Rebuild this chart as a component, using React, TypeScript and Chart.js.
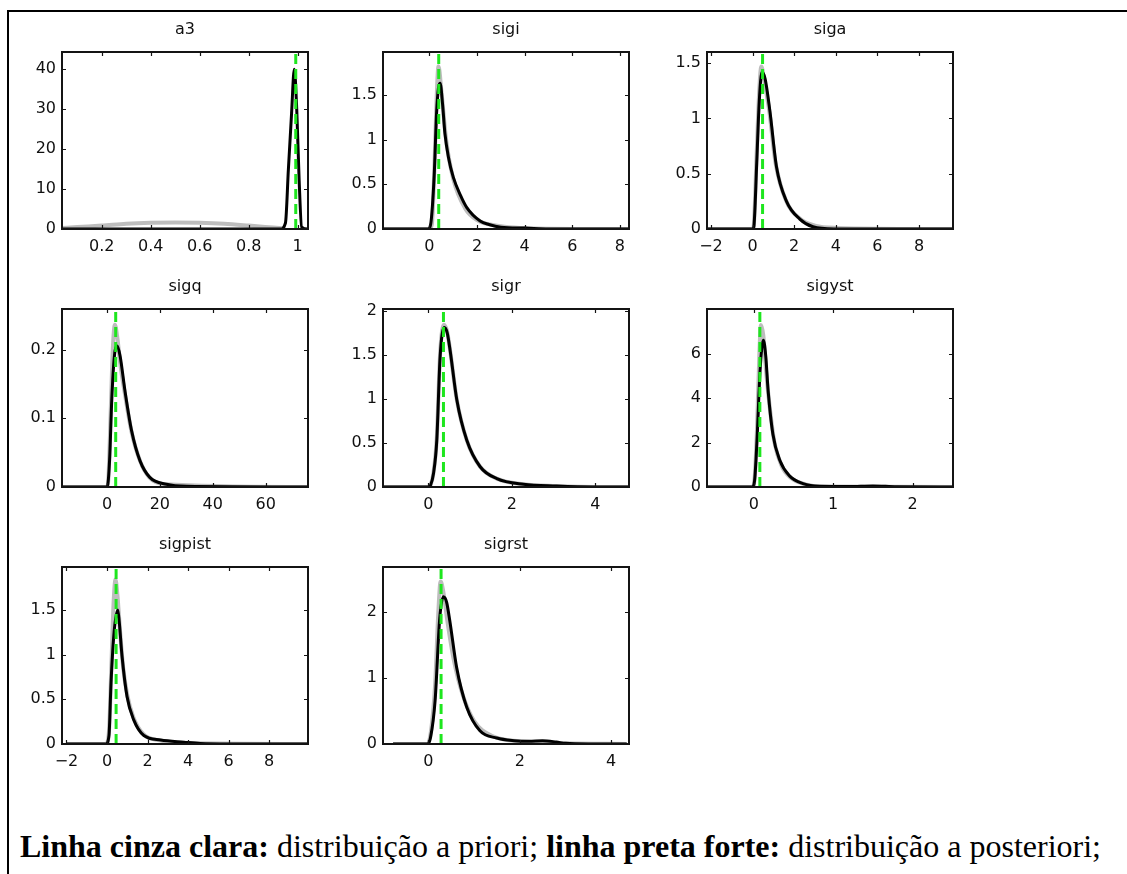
import React, { useEffect, useRef } from 'react';
import { Chart, registerables } from 'chart.js';

Chart.register(...registerables);

// ---------- data ----------
const titles = ['a3', 'sigi', 'siga', 'sigq', 'sigr', 'sigyst', 'sigpist', 'sigrst'];

// a3
const a3XRange = [0.038, 1.042];
const a3YRange = [0, 44.3];
const a3XTicks = [0.2, 0.4, 0.6, 0.8, 1];
const a3YTicks = [0, 10, 20, 30, 40];
const a3PriorX = [0.038, 0.1, 0.2, 0.3, 0.4, 0.5, 0.6, 0.7, 0.8, 0.9, 0.95];
const a3PriorY = [0.25, 0.5, 0.85, 1.3, 1.55, 1.65, 1.55, 1.3, 0.85, 0.35, 0.1];
const a3PostX = [0.038, 0.5, 0.93, 0.95, 0.962, 0.975, 0.986, 0.996, 1.006, 1.016, 1.042];
const a3PostY = [0, 0, 0, 1.5, 15, 29, 40, 30, 12, 0.5, 0];
const a3Mode = 0.992;

// sigi
const sigiXRange = [-1.95, 8.38];
const sigiYRange = [0, 1.98];
const sigiXTicks = [0, 2, 4, 6, 8];
const sigiYTicks = [0, 0.5, 1, 1.5];
const sigiPriorX = [-1.95, 0, 0.1, 0.2, 0.3, 0.38, 0.5, 0.7, 1.0, 1.5, 2, 3, 4, 6, 8.38];
const sigiPriorY = [0, 0, 0.05, 0.62, 1.45, 1.82, 1.55, 1.0, 0.56, 0.23, 0.1, 0.03, 0.01, 0, 0];
const sigiPostX = [-1.95, -0.05, 0.05, 0.2, 0.3, 0.38, 0.45, 0.55, 0.65, 0.8, 1.0, 1.3, 1.57, 2.13, 2.5, 3, 4, 5, 8.38];
const sigiPostY = [0, 0, 0.05, 0.6, 1.3, 1.58, 1.63, 1.4, 1.07, 0.8, 0.58, 0.38, 0.24, 0.09, 0.05, 0.02, 0.01, 0, 0];
const sigiMode = 0.39;

// siga
const sigaXRange = [-2.19, 9.63];
const sigaYRange = [0, 1.6];
const sigaXTicks = [-2, 0, 2, 4, 6, 8];
const sigaYTicks = [0, 0.5, 1, 1.5];
const sigaPriorX = [-2.19, 0, 0.05, 0.2, 0.32, 0.42, 0.55, 0.8, 1.1, 1.6, 2.3, 3, 4, 9.63];
const sigaPriorY = [0, 0, 0.02, 0.7, 1.25, 1.47, 1.35, 1.07, 0.6, 0.26, 0.09, 0.03, 0.01, 0];
const sigaPostX = [-2.19, 0, 0.06, 0.2, 0.32, 0.45, 0.6, 0.83, 1.15, 1.63, 2.27, 2.9, 3.9, 9.63];
const sigaPostY = [0, 0, 0.02, 0.6, 1.15, 1.42, 1.36, 1.07, 0.56, 0.25, 0.09, 0.02, 0, 0];
const sigaMode = 0.48;

// sigq
const sigqXRange = [-17, 76];
const sigqYRange = [0, 0.259];
const sigqXTicks = [0, 20, 40, 60];
const sigqYTicks = [0, 0.1, 0.2];
const sigqPriorX = [-17, 0, 0.5, 1.5, 2.2, 3.0, 4, 5, 6.8, 9.3, 12.5, 16, 22, 76];
const sigqPriorY = [0, 0, 0.01, 0.12, 0.2, 0.236, 0.215, 0.18, 0.135, 0.08, 0.038, 0.014, 0.004, 0];
const sigqPostX = [-17, 0.1, 1, 1.8, 2.8, 3.9, 5, 6.8, 9.3, 12.5, 16.2, 22.5, 30, 76];
const sigqPostY = [0, 0, 0.04, 0.126, 0.19, 0.205, 0.19, 0.14, 0.082, 0.038, 0.014, 0.004, 0.001, 0];
const sigqMode = 3.3;

// sigr
const sigrXRange = [-1.09, 4.81];
const sigrYRange = [0, 2.02];
const sigrXTicks = [0, 2, 4];
const sigrYTicks = [0, 0.5, 1, 1.5, 2];
const sigrPriorX = [-1.09, 0, 0.05, 0.12, 0.2, 0.28, 0.37, 0.45, 0.52, 0.68, 0.92, 1.24, 1.64, 2.28, 3.07, 4, 4.81];
const sigrPriorY = [0, 0, 0.02, 0.16, 0.56, 1.52, 1.84, 1.76, 1.55, 0.99, 0.53, 0.23, 0.095, 0.03, 0.01, 0, 0];
const sigrPostX = [-1.09, 0, 0.05, 0.12, 0.2, 0.28, 0.38, 0.45, 0.52, 0.68, 0.92, 1.24, 1.64, 2.28, 3.07, 4, 4.81];
const sigrPostY = [0, 0, 0.02, 0.15, 0.53, 1.48, 1.81, 1.75, 1.55, 0.99, 0.53, 0.23, 0.095, 0.03, 0.01, 0, 0];
const sigrMode = 0.36;

// sigyst
const sigystXRange = [-0.59, 2.51];
const sigystYRange = [0, 8.0];
const sigystXTicks = [0, 1, 2];
const sigystYTicks = [0, 2, 4, 6];
const sigystPriorX = [-0.59, -0.02, 0.01, 0.04, 0.07, 0.09, 0.12, 0.16, 0.2, 0.26, 0.35, 0.47, 0.65, 0.85, 2.51];
const sigystPriorY = [0, 0, 0.4, 2.6, 6.0, 7.28, 6.8, 5.0, 3.6, 2.0, 0.95, 0.4, 0.12, 0.02, 0];
const sigystPostX = [-0.59, -0.02, 0.01, 0.04, 0.08, 0.12, 0.15, 0.18, 0.24, 0.33, 0.45, 0.62, 0.83, 1.2, 1.5, 1.8, 2.51];
const sigystPostY = [0, 0, 0.3, 2.1, 5.3, 6.6, 5.9, 4.34, 2.38, 1.18, 0.5, 0.15, 0.03, 0.02, 0.05, 0.01, 0];
const sigystMode = 0.076;

// sigpist
const sigpistXRange = [-2.22, 9.92];
const sigpistYRange = [0, 1.98];
const sigpistXTicks = [-2, 0, 2, 4, 6, 8];
const sigpistYTicks = [0, 0.5, 1, 1.5];
const sigpistPriorX = [-2.0, -0.05, 0.1, 0.22, 0.33, 0.42, 0.52, 0.65, 0.8, 1.0, 1.3, 1.8, 2.6, 4, 9.92];
const sigpistPriorY = [0, 0, 0.15, 0.9, 1.6, 1.84, 1.65, 1.25, 0.85, 0.55, 0.3, 0.11, 0.04, 0.01, 0];
const sigpistPostX = [-2.0, -0.05, 0.1, 0.2, 0.35, 0.53, 0.6, 0.74, 0.99, 1.32, 1.82, 2.65, 3.8, 4.6, 6, 9.92];
const sigpistPostY = [0, 0, 0.1, 0.69, 1.25, 1.5, 1.38, 0.99, 0.53, 0.27, 0.095, 0.045, 0.02, 0.005, 0, 0];
const sigpistMode = 0.45;

// sigrst
const sigrstXRange = [-0.99, 4.39];
const sigrstYRange = [0, 2.68];
const sigrstXTicks = [0, 2, 4];
const sigrstYTicks = [0, 1, 2];
const sigrstPriorX = [-0.77, -0.02, 0.05, 0.15, 0.22, 0.27, 0.33, 0.42, 0.55, 0.75, 1.0, 1.4, 2, 3, 4.34];
const sigrstPriorY = [0, 0, 0.15, 0.9, 2.0, 2.46, 2.3, 1.85, 1.3, 0.75, 0.35, 0.12, 0.04, 0.01, 0];
const sigrstPostX = [-0.77, -0.02, 0.05, 0.15, 0.25, 0.33, 0.4, 0.47, 0.62, 0.84, 1.13, 1.5, 1.88, 2.2, 2.5, 2.8, 3.0, 3.5, 4.34];
const sigrstPostY = [0, 0, 0.1, 0.66, 1.9, 2.23, 2.15, 1.87, 1.16, 0.56, 0.2, 0.09, 0.05, 0.04, 0.05, 0.03, 0.01, 0, 0];
const sigrstMode = 0.28;

const captionBold1 = 'Linha cinza clara:';
const captionText1 = ' distribuição a priori; ';
const captionBold2 = 'linha preta forte:';
const captionText2 = ' distribuição a posteriori;';

// ---------- layout ----------
const COL_LEFT = [62, 383, 707];
const ROW_TOP = [52, 309, 567];
const ROW_H = [177, 178, 177];
const BOX_W = 246;
const PAD_L = 60;
const PAD_R = 20;
const PAD_T = 34;
const PAD_B = 32;
const FONT = "'DejaVu Sans', Verdana, sans-serif";
const FONT_SIZE = 16;
const TEXT_COLOR = '#101010';

const zip = (xs: number[], ys: number[]) => xs.map((x, i) => ({ x, y: ys[i] }));

const panelData = [
  [a3XRange, a3YRange, a3XTicks, a3YTicks, a3PriorX, a3PriorY, a3PostX, a3PostY, a3Mode],
  [sigiXRange, sigiYRange, sigiXTicks, sigiYTicks, sigiPriorX, sigiPriorY, sigiPostX, sigiPostY, sigiMode],
  [sigaXRange, sigaYRange, sigaXTicks, sigaYTicks, sigaPriorX, sigaPriorY, sigaPostX, sigaPostY, sigaMode],
  [sigqXRange, sigqYRange, sigqXTicks, sigqYTicks, sigqPriorX, sigqPriorY, sigqPostX, sigqPostY, sigqMode],
  [sigrXRange, sigrYRange, sigrXTicks, sigrYTicks, sigrPriorX, sigrPriorY, sigrPostX, sigrPostY, sigrMode],
  [sigystXRange, sigystYRange, sigystXTicks, sigystYTicks, sigystPriorX, sigystPriorY, sigystPostX, sigystPostY, sigystMode],
  [sigpistXRange, sigpistYRange, sigpistXTicks, sigpistYTicks, sigpistPriorX, sigpistPriorY, sigpistPostX, sigpistPostY, sigpistMode],
  [sigrstXRange, sigrstYRange, sigrstXTicks, sigrstYTicks, sigrstPriorX, sigrstPriorY, sigrstPostX, sigrstPostY, sigrstMode],
] as any[];

const fmt = (v: number) => {
  const n = Math.round(Number(v) * 1000) / 1000;
  return n < 0 ? '\u2212' + String(Math.abs(n)) : String(n);
};

const boxPlugin = {
  id: 'matlabBox',
  afterDatasetsDraw(chart: any) {
    const { ctx, chartArea: a, scales } = chart;
    ctx.save();
    ctx.strokeStyle = '#141414';
    ctx.lineWidth = 1.2;
    const tl = 4;
    ctx.beginPath();
    scales.x.ticks.forEach((t: any) => {
      const px = Math.round(scales.x.getPixelForValue(t.value)) + 0.5;
      if (px <= a.left + 2 || px >= a.right - 2) return;
      ctx.moveTo(px, a.bottom);
      ctx.lineTo(px, a.bottom - tl);
      ctx.moveTo(px, a.top);
      ctx.lineTo(px, a.top + tl);
    });
    scales.y.ticks.forEach((t: any) => {
      const py = Math.round(scales.y.getPixelForValue(t.value)) + 0.5;
      if (py <= a.top + 2 || py >= a.bottom - 2) return;
      ctx.moveTo(a.left, py);
      ctx.lineTo(a.left + tl, py);
      ctx.moveTo(a.right, py);
      ctx.lineTo(a.right - tl, py);
    });
    ctx.stroke();
    ctx.lineWidth = 2;
    ctx.strokeRect(a.left, a.top, a.right - a.left, a.bottom - a.top);
    ctx.restore();
  },
};

function Panel({ index }: { index: number }) {
  const ref = useRef<HTMLCanvasElement>(null);
  const [xr, yr, xt, yt, prX, prY, poX, poY, mode] = panelData[index];
  const col = index % 3;
  const row = Math.floor(index / 3);
  const h = ROW_H[row];
  const w = PAD_L + BOX_W + PAD_R;
  const hh = PAD_T + h + PAD_B;

  useEffect(() => {
    if (!ref.current) return;
    const chart = new Chart(ref.current, {
      type: 'line',
      data: {
        datasets: [
          {
            data: [{ x: mode, y: yr[0] }, { x: mode, y: yr[1] }],
            borderColor: '#1ee61e',
            borderWidth: 3,
            borderDash: [10, 5],
            pointRadius: 0,
            tension: 0,
            order: 0,
          },
          {
            data: zip(poX, poY),
            borderColor: '#000000',
            borderWidth: 3,
            pointRadius: 0,
            cubicInterpolationMode: 'monotone',
            order: 1,
          },
          {
            data: zip(prX, prY),
            borderColor: '#bdbdbd',
            borderWidth: 4,
            pointRadius: 0,
            cubicInterpolationMode: 'monotone',
            order: 2,
          },
        ],
      } as any,
      options: {
        responsive: false,
        animation: false,
        devicePixelRatio: 1,
        events: [],
        layout: { padding: { left: 0, right: PAD_R, top: 0, bottom: 0 } },
        plugins: {
          legend: { display: false },
          tooltip: { enabled: false },
          title: {
            display: true,
            fullSize: false,
            text: titles[index],
            color: TEXT_COLOR,
            font: { family: FONT, size: FONT_SIZE, weight: 'normal', lineHeight: 1.2 },
            padding: { top: 2, bottom: 12.8 },
          },
        },
        scales: {
          x: {
            type: 'linear',
            min: xr[0],
            max: xr[1],
            grid: { display: false, drawTicks: false },
            border: { display: false },
            ticks: {
              autoSkip: false,
              maxRotation: 0,
              padding: 8,
              color: TEXT_COLOR,
              font: { family: FONT, size: FONT_SIZE },
              callback: (v: any) => fmt(v),
            },
            afterBuildTicks: (s: any) => {
              s.ticks = xt.map((v: number) => ({ value: v }));
            },
            afterFit: (s: any) => {
              s.height = PAD_B;
            },
          },
          y: {
            type: 'linear',
            min: yr[0],
            max: yr[1],
            grid: { display: false, drawTicks: false },
            border: { display: false },
            ticks: {
              autoSkip: false,
              padding: 6,
              color: TEXT_COLOR,
              font: { family: FONT, size: FONT_SIZE },
              callback: (v: any) => fmt(v),
            },
            afterBuildTicks: (s: any) => {
              s.ticks = yt.map((v: number) => ({ value: v }));
            },
            afterFit: (s: any) => {
              s.width = PAD_L;
            },
          },
        },
      } as any,
      plugins: [boxPlugin],
    });
    return () => chart.destroy();
  }, [index]);

  return (
    <canvas
      ref={ref}
      width={w}
      height={hh}
      style={{
        position: 'absolute',
        left: COL_LEFT[col] - PAD_L,
        top: ROW_TOP[row] - PAD_T,
        width: w,
        height: hh,
      }}
    />
  );
}

export default function App() {
  return (
    <div
      style={{
        position: 'fixed',
        left: 0,
        top: 0,
        width: 1127,
        height: 874,
        background: '#ffffff',
        overflow: 'hidden',
      }}
    >
      <div
        style={{
          position: 'absolute',
          left: 7,
          top: 10,
          width: 1200,
          height: 900,
          borderLeft: '2px solid #000',
          borderTop: '2px solid #000',
        }}
      />
      {titles.map((_, i) => (
        <Panel key={i} index={i} />
      ))}
      <div
        style={{
          position: 'absolute',
          left: 20,
          top: 830,
          whiteSpace: 'nowrap',
          fontFamily: "'Liberation Serif', 'Times New Roman', serif",
          fontSize: 32,
          lineHeight: '32px',
          color: '#000',
        }}
      >
        <b>{captionBold1}</b>
        {captionText1}
        <b>{captionBold2}</b>
        {captionText2}
      </div>
    </div>
  );
}
